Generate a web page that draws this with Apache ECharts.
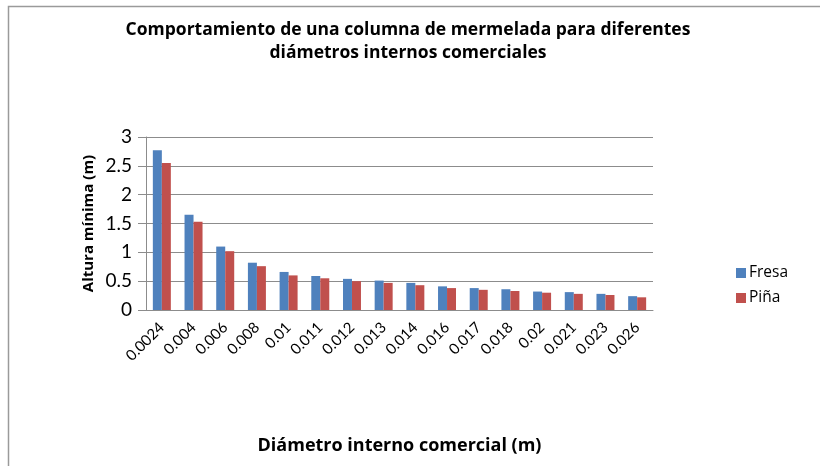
<!DOCTYPE html>
<html>
<head>
<meta charset="utf-8">
<script src="https://cdn.jsdelivr.net/npm/echarts@6/dist/echarts.min.js"></script>
<style>
  html, body { margin: 0; padding: 0; background: #fff; }
  #chart { width: 820px; height: 466px; }
</style>
</head>
<body>
<div id="chart"></div>
<script>
// Commercial inner diameters (m)
const diametros = ['0.0024', '0.004', '0.006', '0.008', '0.01', '0.011', '0.012', '0.013',
                   '0.014', '0.016', '0.017', '0.018', '0.02', '0.021', '0.023', '0.026'];
// Minimum column height (m) per jam type
const fresa = [2.77, 1.65, 1.10, 0.82, 0.66, 0.59, 0.54, 0.51, 0.47, 0.41, 0.38, 0.36, 0.32, 0.31, 0.28, 0.24];
const pina  = [2.55, 1.53, 1.02, 0.76, 0.60, 0.55, 0.50, 0.47, 0.43, 0.38, 0.35, 0.33, 0.30, 0.28, 0.26, 0.22];
const yTicks = [0, 0.5, 1, 1.5, 2, 2.5, 3];

const FONT = 'Lato, "Liberation Sans", sans-serif';
const BOLD = '"Open Sans", "Liberation Sans", sans-serif';
const gridColor = '#8c8c8c';

const chart = echarts.init(document.getElementById('chart'), null, { renderer: 'canvas' });

chart.setOption({
  backgroundColor: '#ffffff',
  animation: false,
  graphic: [{
    type: 'rect',
    shape: { x: 8.5, y: 6.5, width: 900, height: 600 },
    style: { fill: 'none', stroke: '#9a9a9a', lineWidth: 1.5 },
    silent: true
  }],
  title: {
    text: 'Comportamiento de una columna de mermelada para diferentes\ndiámetros internos comerciales',
    left: 403,
    textAlign: 'center',
    top: 14,
    textStyle: { fontFamily: BOLD, fontWeight: 'bold', fontSize: 17.5, lineHeight: 23, color: '#000' }
  },
  legend: {
    orient: 'vertical',
    left: 731,
    top: 260,
    itemGap: 9,
    itemWidth: 10,
    itemHeight: 10,
    icon: 'rect',
    textStyle: { fontFamily: BOLD, fontSize: 15.5, color: '#000', padding: [0, 0, 0, -2] },
    data: ['Fresa', 'Piña']
  },
  grid: { left: 146, right: 167, top: 137, bottom: 156, containLabel: false },
  xAxis: {
    type: 'category',
    data: diametros,
    name: 'Diámetro interno comercial (m)',
    nameLocation: 'middle',
    nameGap: 127,
    nameMoveOverlap: false,
    nameTextStyle: { fontFamily: BOLD, fontWeight: 'bold', fontSize: 18, color: '#000' },
    axisLine: { lineStyle: { color: gridColor, width: 1 } },
    axisTick: { show: false },
    axisLabel: { rotate: 45, interval: 0, margin: 15, fontFamily: FONT, fontSize: 15, color: '#000' }
  },
  yAxis: {
    type: 'value',
    min: yTicks[0],
    max: yTicks[yTicks.length - 1],
    interval: 0.5,
    name: 'Altura mínima (m)',
    nameLocation: 'middle',
    nameRotate: 90,
    nameGap: 50,
    nameMoveOverlap: false,
    nameTextStyle: { fontFamily: BOLD, fontWeight: 'bold', fontSize: 15, color: '#000' },
    axisLine: { show: true, lineStyle: { color: gridColor, width: 1 } },
    axisTick: { show: true, inside: false, length: 8, lineStyle: { color: gridColor } },
    splitLine: { lineStyle: { color: gridColor, width: 1 } },
    axisLabel: { margin: 14, fontFamily: FONT, fontSize: 19, color: '#000' }
  },
  series: [
    { name: 'Fresa', type: 'bar', data: fresa, barWidth: 9, barGap: '0%',
      itemStyle: { color: '#4F81BD' } },
    { name: 'Piña', type: 'bar', data: pina, barWidth: 9, barGap: '0%',
      itemStyle: { color: '#C0504D' } }
  ]
});
</script>
</body>
</html>
